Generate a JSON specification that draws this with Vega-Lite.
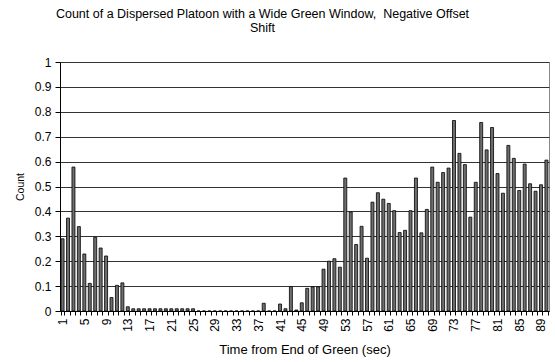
{
  "$schema": "https://vega.github.io/schema/vega-lite/v6.json",
  "autosize": {"type": "none"},
  "padding": {"left": 60, "top": 62, "right": 6, "bottom": 51},
  "width": 489,
  "height": 249,
  "background": "white",
  "title": {
    "text": ["Count of a Dispersed Platoon with a Wide Green Window,\u00a0 Negative Offset", "Shift"],
    "font": "Liberation Sans",
    "fontSize": 12.5,
    "fontWeight": "normal",
    "color": "#000",
    "anchor": "middle",
    "frame": "group",
    "dx": -42,
    "offset": 22,
    "lineHeight": 14
  },
  "config": {
    "font": "Liberation Sans",
    "view": {"stroke": "#888", "strokeWidth": 1}
  },
  "data": {
    "values": [
      {"t": 1, "c": 0.29}, {"t": 2, "c": 0.373}, {"t": 3, "c": 0.578}, {"t": 4, "c": 0.339},
      {"t": 5, "c": 0.229}, {"t": 6, "c": 0.111}, {"t": 7, "c": 0.296}, {"t": 8, "c": 0.253},
      {"t": 9, "c": 0.221}, {"t": 10, "c": 0.054}, {"t": 11, "c": 0.103}, {"t": 12, "c": 0.113},
      {"t": 13, "c": 0.017}, {"t": 14, "c": 0.009}, {"t": 15, "c": 0.009}, {"t": 16, "c": 0.009},
      {"t": 17, "c": 0.009}, {"t": 18, "c": 0.009}, {"t": 19, "c": 0.009}, {"t": 20, "c": 0.009},
      {"t": 21, "c": 0.009}, {"t": 22, "c": 0.009}, {"t": 23, "c": 0.009}, {"t": 24, "c": 0.009},
      {"t": 25, "c": 0.009}, {"t": 26, "c": 0}, {"t": 27, "c": 0}, {"t": 28, "c": 0},
      {"t": 29, "c": 0}, {"t": 30, "c": 0}, {"t": 31, "c": 0}, {"t": 32, "c": 0},
      {"t": 33, "c": 0}, {"t": 34, "c": 0}, {"t": 35, "c": 0}, {"t": 36, "c": 0},
      {"t": 37, "c": 0}, {"t": 38, "c": 0.031}, {"t": 39, "c": 0}, {"t": 40, "c": 0},
      {"t": 41, "c": 0.028}, {"t": 42, "c": 0.009}, {"t": 43, "c": 0.098}, {"t": 44, "c": 0.004},
      {"t": 45, "c": 0.033}, {"t": 46, "c": 0.091}, {"t": 47, "c": 0.097}, {"t": 48, "c": 0.097},
      {"t": 49, "c": 0.168}, {"t": 50, "c": 0.2}, {"t": 51, "c": 0.21}, {"t": 52, "c": 0.176},
      {"t": 53, "c": 0.534}, {"t": 54, "c": 0.398}, {"t": 55, "c": 0.267}, {"t": 56, "c": 0.34},
      {"t": 57, "c": 0.212}, {"t": 58, "c": 0.437}, {"t": 59, "c": 0.475}, {"t": 60, "c": 0.449},
      {"t": 61, "c": 0.432}, {"t": 62, "c": 0.403}, {"t": 63, "c": 0.315}, {"t": 64, "c": 0.324},
      {"t": 65, "c": 0.403}, {"t": 66, "c": 0.534}, {"t": 67, "c": 0.314}, {"t": 68, "c": 0.408},
      {"t": 69, "c": 0.578}, {"t": 70, "c": 0.517}, {"t": 71, "c": 0.556}, {"t": 72, "c": 0.574},
      {"t": 73, "c": 0.765}, {"t": 74, "c": 0.633}, {"t": 75, "c": 0.588}, {"t": 76, "c": 0.377},
      {"t": 77, "c": 0.517}, {"t": 78, "c": 0.757}, {"t": 79, "c": 0.647}, {"t": 80, "c": 0.737},
      {"t": 81, "c": 0.552}, {"t": 82, "c": 0.473}, {"t": 83, "c": 0.665}, {"t": 84, "c": 0.613},
      {"t": 85, "c": 0.484}, {"t": 86, "c": 0.59}, {"t": 87, "c": 0.511}, {"t": 88, "c": 0.481},
      {"t": 89, "c": 0.507}, {"t": 90, "c": 0.606}
    ]
  },
  "mark": {"type": "bar", "fill": "#6e6e6e", "stroke": "#000", "strokeWidth": 0.8},
  "encoding": {
    "x": {
      "field": "t",
      "type": "ordinal",
      "sort": null,
      "scale": {"paddingInner": 0.45, "paddingOuter": 0.2},
      "axis": {
        "title": "Time from End of Green (sec)",
        "titleFont": "Liberation Sans",
        "titleFontSize": 13,
        "titleFontWeight": "normal",
        "titleColor": "#000",
        "titlePadding": 12,
        "labelAngle": -90,
        "labelFontSize": 12,
        "labelColor": "#000",
        "labelPadding": 3,
        "labelOverlap": false,
        "labelExpr": "(datum.value - 1) % 4 == 0 ? datum.value : ''",
        "domainColor": "#000",
        "tickColor": "#000",
        "tickSize": 4,
        "tickBand": "extent",
        "grid": false
      }
    },
    "y": {
      "field": "c",
      "type": "quantitative",
      "scale": {"domain": [0, 1], "nice": false},
      "axis": {
        "title": "Count",
        "titleFont": "Liberation Sans",
        "titleFontSize": 10.5,
        "titleFontWeight": "normal",
        "titleColor": "#000",
        "titlePadding": 9,
        "values": [0, 0.1, 0.2, 0.3, 0.4, 0.5, 0.6, 0.7, 0.8, 0.9, 1],
        "format": "~g",
        "labelFontSize": 12,
        "labelColor": "#000",
        "labelPadding": 4,
        "domainColor": "#000",
        "tickColor": "#000",
        "tickSize": 5,
        "grid": true,
        "gridColor": "#333",
        "gridWidth": 1
      }
    }
  }
}
